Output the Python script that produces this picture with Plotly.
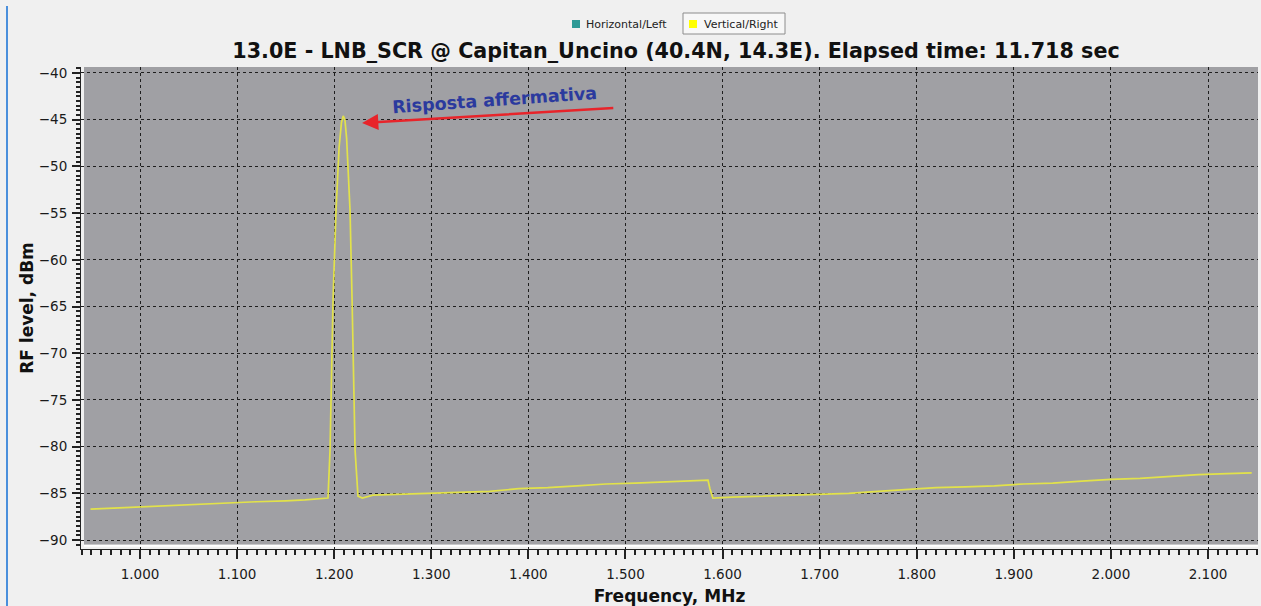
import plotly.graph_objects as go

# ---- data ----
freq = [0.949, 0.97, 1.0, 1.03, 1.06, 1.09, 1.12, 1.15, 1.17, 1.1936,
        1.1957, 1.1988, 1.2019, 1.205, 1.2075, 1.2093, 1.211, 1.2128, 1.2163,
        1.2184, 1.2215, 1.2245, 1.229, 1.24, 1.27, 1.30, 1.33, 1.36, 1.39,
        1.42, 1.45, 1.48, 1.51, 1.54, 1.57, 1.585, 1.587, 1.590, 1.61, 1.64,
        1.67, 1.70, 1.73, 1.76, 1.79, 1.82, 1.85, 1.88, 1.91, 1.94, 1.97,
        2.00, 2.03, 2.06, 2.09, 2.12, 2.145]
level = [-86.7, -86.6, -86.45, -86.3, -86.2, -86.0, -85.9, -85.8, -85.7, -85.5,
         -80.4, -64.3, -54.7, -48.0, -45.3, -44.6, -45.0, -47.0, -54.7,
         -64.3, -80.4, -85.3, -85.5, -85.2, -85.1, -85.0, -84.9, -84.8, -84.5,
         -84.4, -84.2, -84.0, -83.9, -83.8, -83.7, -83.6, -84.5, -85.5, -85.4, -85.3,
         -85.2, -85.1, -85.0, -84.8, -84.6, -84.4, -84.3, -84.2, -84.0, -83.9, -83.7,
         -83.5, -83.4, -83.2, -83.0, -82.9, -82.8]

series_names = ["Horizontal/Left", "Vertical/Right"]
series_colors = ["#2e9a96", "#ffff00"]

title_text = "13.0E - LNB_SCR @ Capitan_Uncino (40.4N, 14.3E). Elapsed time: 11.718 sec"
x_title = "Frequency, MHz"
y_title = "RF level, dBm"
note_text = "Risposta affermativa"
note_at = (1.2287, -45.35)
note_from = (1.489, -43.75)

x_range = [0.9392, 2.1515]
y_range = [-90.96, -39.36]

W, H = 1261, 606
ML, MR, MT, MB = 81, 3, 67, 57
PW, PH = W - ML - MR, H - MT - MB


def px_x(px):
    return (px - ML) / PW


def px_y(py):
    return 1 - (py - MT) / PH


fig = go.Figure()

fig.add_trace(go.Scatter(x=freq, y=level, mode="lines", name=series_names[1],
                         showlegend=False, hoverinfo="skip",
                         line=dict(color="#e2e24a", width=1.7)))

font_main = "DejaVu Sans, Verdana, sans-serif"

fig.update_layout(
    width=W, height=H,
    margin=dict(l=ML, r=MR, t=MT, b=MB, autoexpand=False),
    paper_bgcolor="#f0f0f0",
    plot_bgcolor="#f0f0f0",
    font=dict(family=font_main, color="#1a1a1a"),
    title=dict(text="<b>" + title_text + "</b>", x=676 / W, xanchor="center",
               y=1 - 51 / H, yanchor="middle",
               font=dict(size=20.7, color="#111111", family=font_main)),
    showlegend=False,
)

fig.update_xaxes(
    range=x_range, dtick=0.1, tick0=1.0, tickformat=".3f", automargin=False,
    showgrid=True, gridcolor="#1e1e1e", griddash="dot", gridwidth=1,
    zeroline=False, showline=True, linecolor="#222", linewidth=1,
    ticks="outside", ticklen=9, tickcolor="#222", tickwidth=1.5,
    ticklabelstandoff=4,
    minor=dict(dtick=0.01, tick0=1.0, ticks="outside", ticklen=5,
               tickcolor="#222", showgrid=False),
    tickfont=dict(size=13.5, family=font_main, color="#1a1a1a"),
    title=dict(text="<b>" + x_title + "</b>",
               font=dict(size=17, color="#111", family=font_main), standoff=9),
)
fig.update_yaxes(
    range=y_range, dtick=5, tick0=-90, automargin=False,
    showgrid=True, gridcolor="#1e1e1e", griddash="dot", gridwidth=1,
    zeroline=False, showline=True, linecolor="#222", linewidth=1,
    ticks="outside", ticklen=8, tickcolor="#222", tickwidth=1.5,
    ticklabelstandoff=2,
    minor=dict(dtick=0.5, ticks="outside", ticklen=4, tickcolor="#222",
               showgrid=False),
    tickfont=dict(size=13.5, family=font_main, color="#1a1a1a"),
    title=dict(text="<b>" + y_title + "</b>",
               font=dict(size=17, color="#111", family=font_main), standoff=0),
)

# grey plot area and white separator
fig.add_shape(type="rect", xref="x", yref="y", x0=0.9423, x1=x_range[1],
              y0=-90.5, y1=y_range[1], fillcolor="#a0a0a4", line=dict(width=0),
              layer="below")
fig.add_shape(type="line", xref="x", yref="y", x0=0.9423, x1=x_range[1],
              y0=-90.62, y1=-90.62, line=dict(color="#ffffff", width=2),
              layer="below")

# legend (drawn manually to match the original widget)
fig.add_shape(type="rect", xref="paper", yref="paper",
              x0=px_x(683), x1=px_x(785), y0=px_y(34), y1=px_y(13),
              line=dict(color="#8c8c8c", width=1),
              fillcolor="#f7f7f7", layer="below")
legend_sq_x = [576, 693]
legend_tx_x = [584, 702]
for n, c, sx, tx in zip(series_names, series_colors, legend_sq_x, legend_tx_x):
    fig.add_shape(type="rect", xref="paper", yref="paper",
                  x0=px_x(sx - 4), x1=px_x(sx + 4), y0=px_y(28), y1=px_y(20),
                  fillcolor=c, line=dict(width=0))
    fig.add_annotation(x=px_x(tx), y=px_y(24), xref="paper", yref="paper",
                       xanchor="left", yanchor="middle", text=n, showarrow=False,
                       font=dict(size=11, color="#222", family=font_main))

# window frame line at the left
fig.add_shape(type="line", xref="paper", yref="paper",
              x0=px_x(7), x1=px_x(7), y0=px_y(606), y1=px_y(6),
              line=dict(color="#4a8fdc", width=2))

# annotation and arrow
fig.add_annotation(x=note_at[0], y=note_at[1], ax=note_from[0], ay=note_from[1],
                   xref="x", yref="y", axref="x", ayref="y", text="",
                   showarrow=True, arrowhead=2, arrowsize=1.3, arrowwidth=2.5,
                   arrowcolor="#e8242a")
fig.add_annotation(x=1.365, y=-42.9, xref="x", yref="y",
                   text="<b>" + note_text + "</b>", showarrow=False,
                   textangle=-4, font=dict(size=17.5, color="#2b3a9e",
                                           family=font_main))

fig.write_html("out.html", config={"displayModeBar": False},
               post_script="document.body.style.margin='0';"
                           "document.body.style.overflow='hidden';")
